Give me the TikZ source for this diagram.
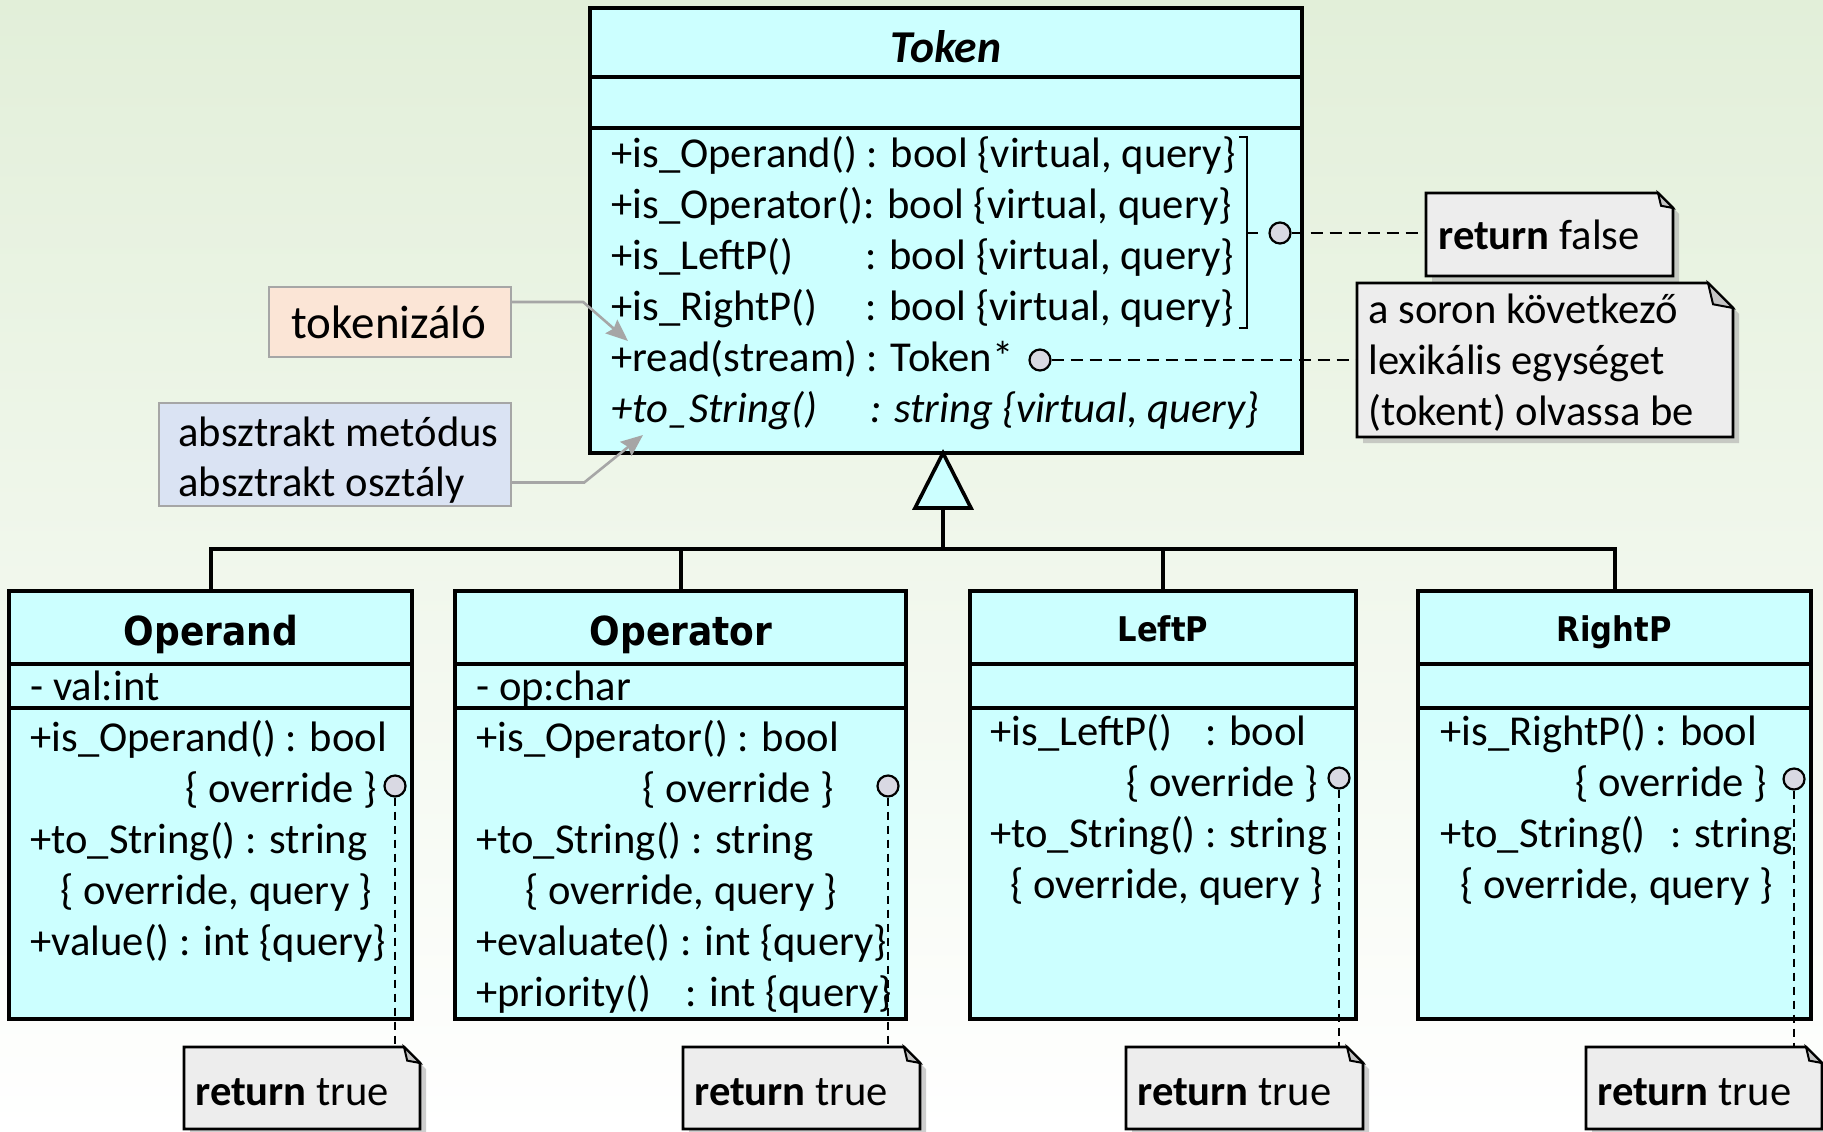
\documentclass[tikz,border=0pt]{standalone}
\usepackage{fontspec}
\setmainfont{Carlito}
\newfontfamily\clsfont[FakeStretch=0.9]{DejaVu Sans}
\usetikzlibrary{arrows.meta,calc,fit}
\definecolor{clsfill}{HTML}{CCFFFF}
\definecolor{notefill}{HTML}{EDEDED}
\definecolor{foldfill}{HTML}{C4C4C4}
\definecolor{dotfill}{HTML}{D9D9E3}
\definecolor{tokfill}{HTML}{FBE5D6}
\definecolor{absfill}{HTML}{DAE3F3}
\definecolor{labborder}{HTML}{A6A6A6}
\definecolor{bgtop}{HTML}{E2EFD9}
\definecolor{bgbot}{HTML}{FFFFFF}
\newcommand\mknote[6]{%
  \node[fit={(#2,#3) (#4,#5)}, inner sep=0pt] (#1) {};
  \fill[black!35, opacity=.55] (#2+6,#3+6) -- (#4-#6+6,#3+6) -- (#4+6,#3+#6+6) -- (#4+6,#5+6) -- (#2+6,#5+6) -- cycle;
  \filldraw[notestyle] (#2,#3) -- (#4-#6,#3) -- (#4,#3+#6) -- (#4,#5) -- (#2,#5) -- cycle;
  \filldraw[foldstyle] (#4-#6,#3) -- (#4-0.8*#6,#3+0.85*#6) -- (#4,#3+#6) -- cycle;
}
\newcommand\mkclass[7]{%
  \node[clsbox, fit={(#2,#3) (#4,#5)}] (#1) {};
  \draw[divline] (#2,#6) -- (#4,#6);
  \draw[divline] (#2,#7) -- (#4,#7);
}
\begin{document}
\begin{tikzpicture}[x=0.5pt,y=-0.5pt,
  clsbox/.style={draw=black, fill=clsfill, line width=2pt, inner sep=0pt},
  divline/.style={line width=1.8pt},
  notestyle/.style={draw=black, fill=notefill, line width=1.3pt, line join=miter},
  foldstyle/.style={draw=black, fill=foldfill, line width=1pt},
  mt/.style={anchor=base west, inner sep=0pt, font=\fontsize{21.3}{25.6}\selectfont},
  ttl/.style={anchor=base, inner sep=0pt},
  dot/.style={circle, draw=black, fill=dotfill, line width=1.1pt, minimum size=10.5pt, inner sep=0pt},
  dashtop/.style={line width=1.1pt, dash pattern=on 6pt off 3.5pt},
  dashbot/.style={line width=0.9pt, dash pattern=on 4pt off 3pt},
  lab/.style={draw=labborder, line width=1.2pt, inner sep=0pt},
  garrow/.style={draw=labborder, line width=1.3pt, -{Stealth[length=11pt, width=9pt, inset=1.5pt]}},
  hier/.style={line width=2pt},
  tri/.style={draw=black, fill=clsfill, line width=1.8pt, line join=miter},
  bracket/.style={line width=1.2pt}
]
\useasboundingbox (0,0) rectangle (1823,1131);
\shade[top color=bgtop, bottom color=bgbot] (0,0) rectangle (1823,1131);

% ---------- label boxes ----------
\node[lab, fill=tokfill, fit={(269,287) (511,357)}] (tok) {};
\node[ttl, font=\fontsize{23.5}{28}\selectfont] (tokt) at (389,338) {tokenizáló};
\node[lab, fill=absfill, fit={(159,403) (511,506)}] (abs) {};
\node[mt] (abs1) at (178,446) {absztrakt metódus};
\node[mt] (abs2) at (178,496) {absztrakt osztály};

% ---------- Token ----------
\mkclass{token}{590}{8}{1302}{453}{77}{128}
\node[ttl, font=\fontsize{22.8}{27}\selectfont\bfseries\itshape] (tokenname) at (946,62) {Token};
\node[mt] (t1) at (611,167) {+is\_Operand() : bool \{virtual, query\}};
\node[mt] (t2) at (611,218) {+is\_Operator(): bool \{virtual, query\}};
\node[mt] (t3) at (611,269) {\makebox[127pt][l]{+is\_LeftP()}: bool \{virtual, query\}};
\node[mt] (t4) at (611,320) {\makebox[127pt][l]{+is\_RightP()}: bool \{virtual, query\}};
\node[mt] (t5) at (611,371) {+read(stream) : Token*};
\node[mt] (t6) at (611,422) {\itshape\makebox[129.5pt][l]{+to\_String()}: string \{virtual, query\}};
\draw[bracket] (1239,137) -- (1247,137) -- (1247,328) -- (1239,328);
\draw[bracket] (1247,233) -- (1258,233);

% arrows from labels
\coordinate (tokhead) at (628,341);
\coordinate (abshead) at (643,435);
\draw[garrow] ([yshift=10pt]tok.east) -- ++(71,0) -- (tokhead);
\draw[garrow] ([yshift=-14pt]abs.east) -- ++(72,0) -- (abshead);

% ---------- hierarchy ----------
\coordinate (apex) at (943,453);
\coordinate (tribase) at (943,508);
\coordinate (bar) at (943,549);

% ---------- subclasses ----------
\mkclass{operand}{9}{591}{412}{1019}{664}{708}
\mkclass{operator}{455}{591}{906}{1019}{664}{708}
\mkclass{leftp}{970}{591}{1356}{1019}{664}{708}
\mkclass{rightp}{1418}{591}{1811}{1019}{664}{708}

\draw[hier] (tribase) -- (bar);
\draw[hier] (operand.north) |- (bar) -| (rightp.north);
\draw[hier] (operator.north) -- (operator.north |- bar);
\draw[hier] (leftp.north) -- (leftp.north |- bar);
\filldraw[tri] (apex) -- ++(28,55) -- ++(-56,0) -- cycle;

% Operand
\node[ttl, font=\clsfont\fontsize{20}{24}\selectfont\bfseries] (operandname) at (211,645) {Operand};
\node[mt] (o0) at (30,700) {- val:int};
\node[mt] (o1) at (30,751) {+is\_Operand() : bool};
\node[mt] (o2) at (185,802) {\{ override \}};
\node[mt] (o3) at (30,853) {+to\_String() : string};
\node[mt] (o4) at (60,904) {\{ override, query \}};
\node[mt] (o5) at (30,955) {+value() : int \{query\}};

% Operator
\node[ttl, font=\clsfont\fontsize{20}{24}\selectfont\bfseries] (operatorname) at (681,645) {Operator};
\node[mt] (p0) at (476,700) {- op:char};
\node[mt] (p1) at (476,751) {+is\_Operator() : bool};
\node[mt] (p2) at (642,802) {\{ override \}};
\node[mt] (p3) at (476,853) {+to\_String() : string};
\node[mt] (p4) at (525,904) {\{ override, query \}};
\node[mt] (p5) at (476,955) {+evaluate() : int \{query\}};
\node[mt] (p6) at (476,1006) {\makebox[104.5pt][l]{+priority()}: int \{query\}};

% LeftP
\node[ttl, font=\clsfont\fontsize{17}{20}\selectfont\bfseries] (leftpname) at (1163,641) {LeftP};
\node[mt] (l1) at (990,745) {\makebox[107.5pt][l]{+is\_LeftP()}: bool};
\node[mt] (l2) at (1126,796) {\{ override \}};
\node[mt] (l3) at (990,847) {+to\_String() : string};
\node[mt] (l4) at (1010,898) {\{ override, query \}};

% RightP
\node[ttl, font=\clsfont\fontsize{17}{20}\selectfont\bfseries] (rightpname) at (1614,641) {RightP};
\node[mt] (r1) at (1440,745) {+is\_RightP() : bool};
\node[mt] (r2) at (1575,796) {\{ override \}};
\node[mt] (r3) at (1440,847) {\makebox[115pt][l]{+to\_String()}: string};
\node[mt] (r4) at (1460,898) {\{ override, query \}};

% ---------- notes ----------
\node[dot] (c1) at (1280,233) {};
\node[dot] (c2) at (1040,360) {};
\node[dot] (c3) at (395,786) {};
\node[dot] (c4) at (888,786) {};
\node[dot] (c5) at (1339,778) {};
\node[dot] (c6) at (1794,779) {};

\mknote{n1}{1426}{193}{1673}{276}{15}
\mknote{n2}{1357}{283}{1733}{437}{25}
\mknote{n3}{184}{1047}{420}{1129}{16}
\mknote{n4}{683}{1047}{920}{1129}{16}
\mknote{n5}{1126}{1047}{1363}{1129}{16}
\mknote{n6}{1586}{1047}{1822}{1129}{16}

\draw[dashtop] (c1.east) -- (c1.east -| n1.west);
\draw[dashtop] (c2.east) -- (c2.east -| n2.west);
\draw[dashbot] (c3.south) -- (c3.south |- n3.north);
\draw[dashbot] (c4.south) -- (c4.south |- n4.north);
\draw[dashbot] (c5.south) -- (c5.south |- n5.north);
\draw[dashbot] (c6.south) -- (c6.south |- n6.north);

\node[mt] (n1t) at (1438,249) {\textbf{return} false};
\node[mt] (n2a) at (1368,323) {a soron következő};
\node[mt] (n2b) at (1368,374) {lexikális egységet};
\node[mt] (n2c) at (1368,425) {(tokent) olvassa be};
\node[mt] (n3t) at (195,1105) {\textbf{return} true};
\node[mt] (n4t) at (694,1105) {\textbf{return} true};
\node[mt] (n5t) at (1137,1105) {\textbf{return} true};
\node[mt] (n6t) at (1597,1105) {\textbf{return} true};
\end{tikzpicture}
\end{document}
